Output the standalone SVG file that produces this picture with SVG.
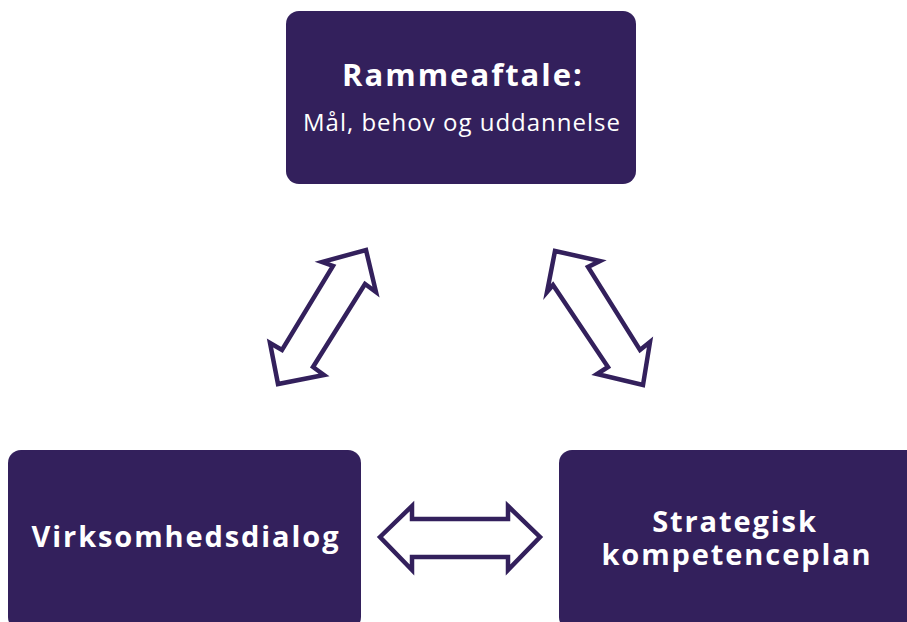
<svg xmlns="http://www.w3.org/2000/svg" width="907" height="622" viewBox="0 0 907 622">
<style>
.box{fill:#33205c}
.t{fill:#ffffff;font-family:"Open Sans","Liberation Sans",sans-serif;text-anchor:middle}
.b{font-weight:bold;font-size:29px;letter-spacing:1.9px}
.arr{fill:#ffffff;stroke:#33205c;stroke-width:4.5;stroke-linejoin:miter}
</style>
<rect width="907" height="622" fill="#ffffff"/>
<g id="rammeaftale">
<rect class="box" x="286" y="11" width="350" height="173" rx="13"/>
<text class="t b" x="463" y="86" style="font-size:31px;letter-spacing:2px">Rammeaftale:</text>
<text class="t" x="462" y="131" font-size="24" letter-spacing="1">Mål, behov og uddannelse</text>
</g>
<g id="virksomhedsdialog">
<rect class="box" x="8" y="450" width="353" height="180" rx="13"/>
<text class="t b" x="186" y="547">Virksomhedsdialog</text>
</g>
<g id="kompetenceplan">
<rect class="box" x="559" y="450" width="360" height="180" rx="13"/>
<text class="t b"><tspan x="735" y="532">Strategisk</tspan><tspan x="737" y="565">kompetenceplan</tspan></text>
</g>
<g id="connectors">
<polygon class="arr" points="366,250 376,292 365,284 313,367 324,375 278,384 270,343 282,350 333,266 322,262"/>
<polygon class="arr" points="555,251 600,261 588,267 640,350 650,342 643,385 597,374 608,367 553,285 547,292"/>
<polygon class="arr" points="380,537 412,506 412,519 508,519 508,506 540,537 508,570 508,557 412,557 412,570"/>
</g>
</svg>
